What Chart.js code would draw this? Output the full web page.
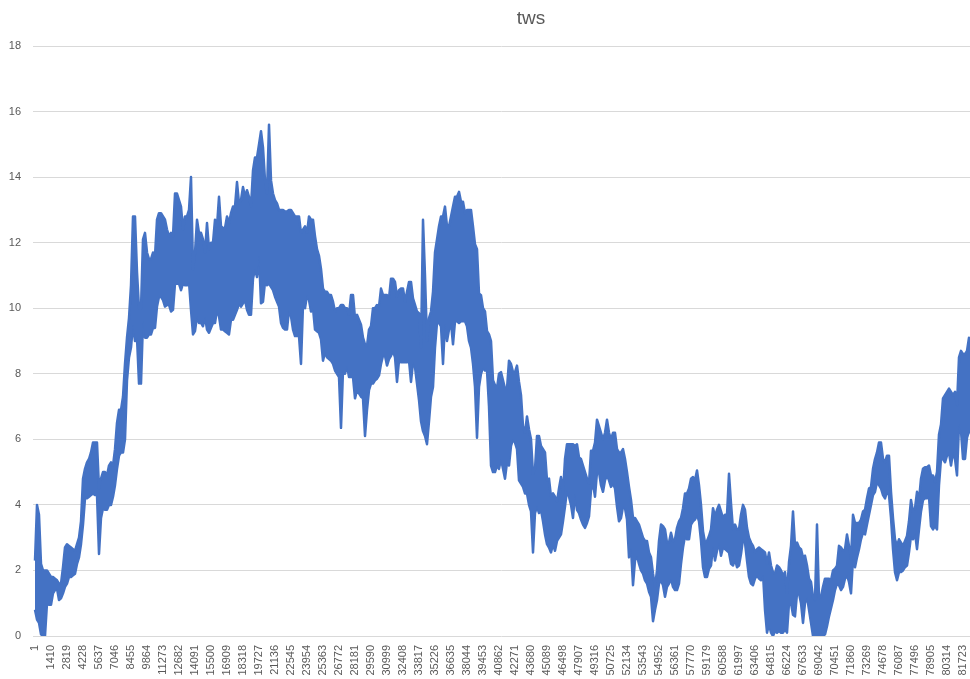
<!DOCTYPE html>
<html>
<head>
<meta charset="utf-8">
<script src="https://cdn.jsdelivr.net/npm/chart.js@4.4.1/dist/chart.umd.min.js"></script>
<style>
  html, body { margin: 0; padding: 0; background: #ffffff; overflow: hidden; }
  #wrap { position: relative; width: 970px; height: 679px; }
  #title { position: absolute; left: 531px; top: 7px; transform: translateX(-50%);
           font-family: "Liberation Sans", Arial, sans-serif; font-size: 19px; color: #595959; white-space: nowrap; }
  canvas { position: absolute; left: 0; top: 0; }
</style>
</head>
<body>
<div id="wrap">
  <canvas id="c" width="970" height="679"></canvas>
  <div id="title">tws</div>
</div>
<script>
// Category tick labels (record numbers shown on the x axis)
const tickLabels = [1, 1410, 2819, 4228, 5637, 7046, 8455, 9864, 11273, 12682, 14091, 15500, 16909,
  18318, 19727, 21136, 22545, 23954, 25363, 26772, 28181, 29590, 30999, 32408, 33817, 35226, 36635,
  38044, 39453, 40862, 42271, 43680, 45089, 46498, 47907, 49316, 50725, 52134, 53543, 54952, 56361,
  57770, 59179, 60588, 61997, 63406, 64815, 66224, 67633, 69042, 70451, 71860, 73269, 74678, 76087,
  77496, 78905, 80314, 81723];

// Record number of the first sample and spacing between samples (8 samples per label step)
const firstRecord = 1;
const recordStep = 176.125;

// y axis tick values
const yTicks = [0, 2, 4, 6, 8, 10, 12, 14, 16, 18];

// tws: upper edge of the noisy trace in each sample window
const twsHigh = [
  2.3,4.0,3.7,2.2,2.0,2.0,2.0,1.9,1.8,1.8, 1.75,1.7,1.6,1.6,2.1,2.7,2.8,2.75,2.7,2.65,
  2.6,2.8,3.0,3.5,4.8,5.1,5.3,5.4,5.6,5.9, 5.9,5.9,4.5,4.8,5.0,5.0,4.9,5.2,5.3,5.2,
  5.7,6.5,6.9,6.9,7.3,
  8.3,9.1,9.7,10.7,12.8,12.8,11.1,10.0,10.0,12.1, 12.3,11.7,11.5,11.5,11.7,11.6,12.7,12.9,12.9,12.8,
  12.7,12.4,12.2,12.3,12.2,13.5,13.5,13.3,13.1,12.4, 12.8,12.8,13.0,14.0,11.2,11.7,12.7,12.3,12.3,12.1,
  11.7,12.6,11.8,12.0,12.0,12.7,
  12.5,13.4,12.5,12.45,12.45,12.8,12.6,12.9,13.1,13.1, 13.85,13.2,13.3,13.7,13.4,13.6,13.4,13.1,14.2,14.6,
  14.6,15.0,15.4,14.9,13.9,13.5,15.6,13.9,13.5,13.3, 13.2,13.0,13.0,13.0,12.95,12.95,13.0,13.0,12.9,12.8,
  12.8,12.8,12.3,12.4,
  12.5,12.3,12.8,12.7,12.7,12.2,11.8,11.6,11.2,10.6, 10.5,10.5,10.4,10.4,10.2,9.9,10.0,10.0,10.1,10.1,
  10.0,10.0,9.8,10.4,10.4,9.7,9.8,9.65,9.5,9.1, 8.9,8.85,9.35,9.45,10.0,10.0,10.1,10.05,10.6,10.4,
  10.4,10.4,10.3,10.9,10.9,10.8,
  10.35,10.55,10.6,10.6,10.2,10.5,10.8,10.8,10.3,10.1, 9.9,9.85,8.8,12.7,11.0,9.0,9.7,9.9,10.5,11.7,
  12.1,12.5,12.8,12.8,13.1,12.5,12.5,12.8,13.1,13.4, 13.4,13.55,13.25,13.25,12.9,13.0,13.0,13.0,12.5,11.95,
  11.8,10.45,10.4,10.0,9.9,
  9.3,9.2,9.0,7.8,7.65,7.55,8.0,8.05,7.8,7.55, 7.55,8.4,8.3,8.05,8.05,8.25,7.75,7.35,6.4,6.2,
  6.7,6.3,6.0,4.95,5.1,6.1,6.1,5.8,5.7,5.6, 4.75,4.8,4.25,4.35,4.25,4.1,4.5,4.85,4.35,5.4,
  5.85,5.85,5.85,5.85,5.8,
  5.85,5.45,5.4,5.2,5.0,4.8,4.65,5.65,5.65,5.9, 6.6,6.4,6.2,6.0,6.2,6.6,6.2,6.0,6.2,6.2,
  5.7,5.6,5.6,5.7,5.4,5.0,4.55,4.15,3.6,3.6, 3.5,3.4,3.2,3.0,2.9,2.9,2.55,2.4,1.9,1.5,
  2.0,2.9,3.4,3.35,3.25,
  2.85,2.85,3.15,2.9,2.95,3.3,3.5,3.6,3.9,4.35, 4.35,4.5,4.8,4.85,4.75,5.05,4.6,4.0,3.2,2.85,
  2.9,3.05,3.25,3.9,3.65,3.85,4.0,3.8,3.6,3.7, 3.7,4.95,4.05,3.25,3.4,3.25,3.25,3.7,4.0,3.85,
  3.3,3.0,2.85,2.75,2.55,
  2.65,2.7,2.65,2.6,2.55,2.2,2.55,2.15,1.95,1.9, 2.15,2.1,2.0,1.85,1.95,1.3,2.25,2.75,3.8,2.75,
  2.85,2.7,2.65,2.4,2.45,2.15,1.75,1.65,1.2,1.1, 3.4,1.15,1.2,1.5,1.75,1.75,1.75,1.7,2.0,2.05,
  2.15,2.75,2.7,2.6,2.65,
  3.1,2.75,2.35,3.7,3.45,3.45,3.45,3.55,3.8,3.85, 4.2,4.5,4.55,5.1,5.4,5.6,5.9,5.9,5.4,5.3,
  5.5,5.5,4.4,3.6,2.95,2.75,2.95,2.85,2.75,2.9, 3.05,3.5,4.15,3.8,3.9,4.4,4.15,4.8,5.1,5.15,
  5.15,5.2,4.9,4.9,4.7,5.0,6.15,6.45,7.25,7.35, 7.45,7.55,7.45,7.35,7.45,7.05,8.5,8.7,8.6,8.6,
  8.7,9.1,9.0
];

// tws: lower edge of the noisy trace in each sample window
const twsLow = [
  0.8,0.5,0.4,0.05,0.0,0.0,1.0,0.95,0.95,1.3, 1.4,1.45,1.1,1.15,1.3,1.5,1.6,1.8,1.8,1.85,
  1.9,2.2,2.4,2.8,3.4,4.2,4.2,4.25,4.3,4.35, 4.3,4.3,2.5,3.6,3.9,3.85,3.85,4.0,4.0,4.25,
  4.6,5.1,5.5,5.6,5.6,
  6.0,7.8,8.5,8.8,9.5,9.0,9.1,7.7,7.7,9.6, 9.1,9.1,9.2,9.2,9.4,9.4,10.05,10.35,10.35,10.25,
  10.05,10.1,10.1,9.9,9.95,10.75,10.75,10.75,10.55,10.75, 10.7,10.7,10.8,9.95,9.2,9.3,9.75,9.55,9.55,9.45,
  9.75,9.35,9.25,9.4,9.55,9.55,
  9.95,9.75,9.35,9.35,9.3,9.25,9.2,9.65,9.65,9.8, 9.95,10.15,10.05,10.15,10.25,9.95,9.8,9.8,10.9,11.2,
  10.95,11.6,10.15,10.2,10.8,10.7,10.75,10.65,10.55,10.35, 10.2,10.05,9.55,9.4,9.35,9.35,9.95,9.75,9.35,9.15,
  9.15,9.15,8.3,10.1,
  10.0,10.4,10.25,9.9,10.0,9.35,9.3,9.25,9.05,8.4, 8.65,8.5,8.45,8.4,8.3,8.1,8.0,7.9,6.35,8.1,
  8.0,8.25,7.9,7.9,7.9,7.25,7.5,7.4,7.3,7.25, 6.1,6.9,7.5,7.7,7.7,7.8,7.85,7.95,8.3,8.55,
  8.55,8.25,8.45,8.55,8.7,8.5,
  7.75,8.4,8.35,8.35,8.35,8.35,8.4,7.75,8.35,8.2, 7.7,7.2,6.55,6.25,6.1,5.85,6.55,7.3,7.6,8.8,
  9.55,9.55,9.45,8.3,9.55,9.0,9.35,9.55,8.9,9.6, 9.6,9.55,9.6,9.6,9.6,9.45,9.0,8.8,8.3,7.6,
  6.05,7.6,8.0,8.2,8.1,
  8.1,7.0,5.2,5.0,5.0,5.2,5.1,5.4,5.1,4.8, 5.3,5.2,5.8,6.0,5.9,5.7,4.75,4.65,4.55,4.35,
  4.35,4.0,3.8,2.55,3.75,3.95,3.75,3.85,3.5,3.1, 2.8,2.7,2.55,2.8,2.6,2.9,3.0,3.1,3.5,3.95,
  4.45,4.25,4.0,3.6,4.35,
  3.85,3.75,3.55,3.4,3.3,3.45,3.65,4.45,4.65,4.25, 5.0,5.0,4.6,4.4,4.75,4.9,4.75,4.55,4.65,4.5,
  3.95,3.5,3.6,3.95,3.9,3.55,2.4,2.7,1.55,2.3, 2.45,2.2,2.0,1.9,1.7,1.6,1.35,1.2,0.45,0.8,
  1.1,1.6,1.7,1.55,1.2,
  1.5,1.6,1.75,1.5,1.4,1.4,1.6,2.2,2.7,3.05, 2.95,2.95,3.4,3.5,3.55,3.7,3.5,2.9,2.1,1.8,
  1.8,2.05,2.15,2.75,2.3,2.6,2.85,2.45,2.7,2.65, 2.6,2.55,2.2,2.15,2.35,2.1,2.15,2.5,2.95,2.85,
  2.3,1.8,1.6,1.55,1.75,
  1.85,1.75,1.7,1.9,0.8,0.1,0.35,0.1,0.0,0.15, 0.1,0.15,0.1,0.1,0.2,0.1,1.0,1.0,0.65,0.6,
  1.3,1.3,1.0,0.4,1.0,1.2,0.8,0.4,0.0,0.0, 0.0,0.0,0.0,0.0,0.05,0.3,0.6,0.85,1.1,1.4,
  1.6,1.55,1.4,1.5,1.75,
  1.85,1.65,1.3,2.35,2.1,2.4,2.65,2.95,3.15,3.1, 3.4,3.7,4.0,4.3,4.4,4.7,4.6,4.5,4.3,4.2,
  4.4,4.3,3.6,2.65,1.95,1.7,1.95,1.95,2.0,2.1, 2.15,2.55,3.05,2.95,3.15,2.65,3.25,3.8,4.15,4.2,
  4.2,4.25,3.35,3.25,3.35,3.25,4.6,5.4,5.4,5.3, 5.5,5.6,5.2,5.6,5.4,4.9,6.45,6.25,5.4,5.4,
  6.05,6.25,6.2
];

const toPoints = (arr) => arr.map((v, i) => ({ x: firstRecord + i * recordStep, y: v }));

const FONT = '"Liberation Sans", Arial, sans-serif';
const GREY = '#595959';
const BLUE = '#4472C4';

new Chart(document.getElementById('c'), {
  type: 'line',
  data: {
    datasets: [{
      label: 'tws',
      data: toPoints(twsHigh),
      borderColor: BLUE,
      backgroundColor: BLUE,
      borderWidth: 2.5,
      borderJoinStyle: 'round',
      pointRadius: 0,
      tension: 0,
      fill: '+1'
    }, {
      label: 'tws (lower edge)',
      data: toPoints(twsLow),
      borderColor: BLUE,
      backgroundColor: BLUE,
      borderWidth: 2.5,
      borderJoinStyle: 'round',
      pointRadius: 0,
      tension: 0,
      fill: false
    }]
  },
  options: {
    responsive: false,
    devicePixelRatio: 1,
    animation: false,
    parsing: false,
    layout: { padding: { top: 46, left: 0, right: 0, bottom: 0 } },
    plugins: { legend: { display: false }, tooltip: { enabled: false }, title: { display: false },
               filler: { propagate: false } },
    scales: {
      x: {
        type: 'linear',
        min: firstRecord - recordStep,
        max: firstRecord + 935 * (recordStep / 2),
        grid: { display: false, drawTicks: false },
        border: { display: false },
        afterBuildTicks: (scale) => { scale.ticks = tickLabels.map(v => ({ value: v })); },
        afterFit: (scale) => { scale.height = 43; scale.paddingLeft = 0; scale.paddingRight = 0; },
        ticks: {
          autoSkip: false,
          minRotation: 90,
          maxRotation: 90,
          padding: 9,
          color: GREY,
          font: { family: FONT, size: 11 },
          callback: (v) => String(v)
        }
      },
      y: {
        min: 0,
        max: 18,
        afterBuildTicks: (scale) => { scale.ticks = yTicks.map(v => ({ value: v })); },
        afterFit: (scale) => { scale.width = 33; scale.paddingTop = 0; scale.paddingBottom = 0; },
        grid: { color: '#D9D9D9', lineWidth: 1, drawTicks: false },
        border: { display: false },
        ticks: {
          padding: 12,
          color: GREY,
          font: { family: FONT, size: 11 },
          callback: (v) => String(v)
        }
      }
    }
  }
});
</script>
</body>
</html>
